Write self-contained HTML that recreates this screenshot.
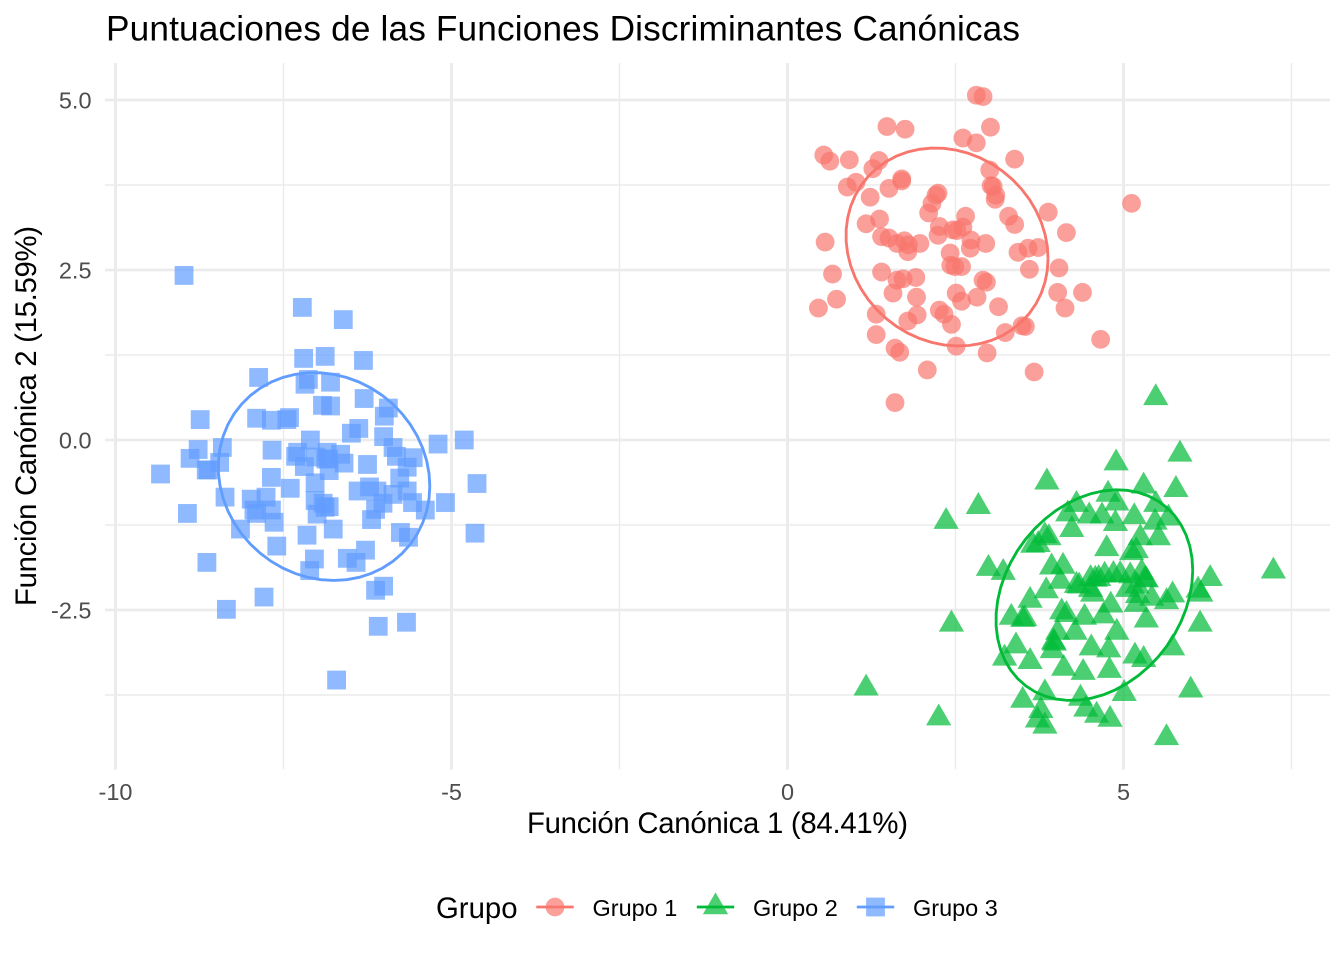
<!DOCTYPE html>
<html lang="es">
<head>
<meta charset="utf-8">
<title>Puntuaciones de las Funciones Discriminantes Canónicas</title>
<style>
html,body{margin:0;padding:0;background:#fff;}
svg{display:block;}
text{font-family:"Liberation Sans",Arial,sans-serif;}
</style>
</head>
<body>
<svg id="chart" xmlns="http://www.w3.org/2000/svg" width="1344" height="960" viewBox="0 0 1344 960">
<rect x="0" y="0" width="1344" height="960" fill="#ffffff"/>
<g id="grid"></g>
<g id="points"></g>
<g id="ellipses"></g>
<g id="ticks"></g>
<text x="106" y="40.5" font-size="35.2" fill="#000000" textLength="914" lengthAdjust="spacing">Puntuaciones de las Funciones Discriminantes Canónicas</text>
<text x="717.5" y="833" font-size="29.33" text-anchor="middle" fill="#000000" textLength="381" lengthAdjust="spacing">Función Canónica 1 (84.41%)</text>
<text transform="translate(36,416) rotate(-90)" font-size="29.33" text-anchor="middle" fill="#000000" textLength="380" lengthAdjust="spacing">Función Canónica 2 (15.59%)</text>
<g id="legend">
<text x="436" y="918" font-size="29.33" fill="#000000">Grupo</text>
</g>
</svg>
<script>
var xMajorTicks = [-10, -5, 0, 5];
var xMajorLabels = ["-10", "-5", "0", "5"];
var xMinorTicks = [-7.5, -2.5, 2.5, 7.5];
var yMajorTicks = [5, 2.5, 0, -2.5];
var yMajorLabels = ["5.0", "2.5", "0.0", "-2.5"];
var yMinorTicks = [3.75, 1.25, -1.25, -3.75];
var groupNames = ["Grupo 1", "Grupo 2", "Grupo 3"];
var groupColors = ["#F8766D", "#00BA38", "#619CFF"];
var ellipseLevel = 0.75;
var ellipseSpreadX = [1.01, 1.09, 1.005];
var ellipseSpreadY = [1.01, 1.04, 1.07];
var ellipseShiftX = [0.03, -0.02, -0.02];
var ellipseShiftY = [0, -0.015, 0];

var group1X = [2.81,2.91,3.02,1.48,1.75,2.61,2.81,0.54,0.63,0.92,1.36,1.27,3.38,3.01,1.70,1.70,1.02,0.89,1.51,1.23,3.03,3.06,3.10,3.09,2.24,2.21,2.15,2.10,3.29,3.38,3.88,5.12,1.37,1.17,2.65,2.26,2.61,2.46,4.15,0.56,1.40,1.51,1.63,1.74,1.80,1.79,1.97,2.24,2.52,2.73,2.72,2.95,3.43,3.58,3.73,2.42,2.43,2.49,2.59,3.60,4.04,0.67,1.40,1.63,1.72,1.91,2.91,2.96,1.57,1.92,2.51,2.59,2.82,4.02,4.39,4.13,0.73,0.46,1.32,2.26,2.33,3.14,1.93,1.79,2.44,3.24,3.49,3.54,1.32,1.60,1.67,2.51,2.97,4.66,2.08,3.67,1.60];
var group1Y = [5.07,5.05,4.60,4.61,4.57,4.44,4.37,4.19,4.10,4.12,4.11,3.99,4.13,3.97,3.84,3.81,3.79,3.72,3.70,3.57,3.74,3.73,3.60,3.54,3.63,3.60,3.48,3.34,3.29,3.17,3.35,3.48,3.25,3.18,3.29,3.14,3.13,3.09,3.05,2.91,2.99,2.97,2.89,2.93,2.87,2.77,2.89,3.01,3.08,2.94,2.82,2.89,2.76,2.82,2.83,2.75,2.57,2.55,2.55,2.51,2.53,2.44,2.47,2.35,2.37,2.39,2.35,2.32,2.16,2.10,2.16,2.04,2.10,2.17,2.17,1.94,2.07,1.94,1.85,1.91,1.85,1.96,1.84,1.75,1.70,1.58,1.68,1.67,1.55,1.35,1.29,1.38,1.28,1.48,1.03,1.00,0.55];

var group2X = [5.48,5.84,4.89,5.30,5.78,3.86,2.84,2.36,4.77,4.30,4.90,5.48,4.17,4.49,4.68,5.16,4.88,5.47,5.67,4.23,5.25,5.52,3.89,3.83,3.73,3.65,4.75,5.12,5.19,2.99,3.21,3.93,4.10,4.06,4.30,3.85,3.61,4.51,4.63,4.72,4.85,4.58,5.10,5.27,5.34,5.32,5.06,4.54,4.51,3.33,3.50,3.53,4.08,4.15,4.42,4.70,4.81,5.19,5.21,5.42,5.64,5.73,5.34,6.15,6.11,6.29,7.23,2.44,6.14,4.90,4.02,3.97,3.94,3.96,4.28,3.40,4.52,4.78,5.73,3.23,3.61,5.17,5.30,4.11,4.40,4.79,1.17,3.83,5.01,6.00,4.36,3.50,2.25,4.44,3.77,4.60,3.72,4.80,3.83,5.64,4.95,5.20,4.34];
var group2Y = [0.62,-0.21,-0.34,-0.68,-0.73,-0.62,-0.98,-1.20,-0.80,-0.95,-0.93,-0.95,-1.09,-1.12,-1.12,-1.13,-1.23,-1.21,-1.15,-1.32,-1.44,-1.44,-1.44,-1.41,-1.54,-1.55,-1.60,-1.66,-1.63,-1.89,-1.95,-1.87,-1.86,-2.08,-2.14,-2.22,-2.36,-2.04,-2.04,-1.99,-1.98,-2.05,-2.00,-1.95,-2.06,-2.05,-2.20,-2.27,-2.20,-2.61,-2.64,-2.63,-2.53,-2.57,-2.61,-2.59,-2.43,-2.42,-2.29,-2.33,-2.38,-2.28,-2.65,-2.27,-2.21,-2.04,-1.93,-2.71,-2.71,-2.83,-2.83,-2.99,-3.10,-2.97,-2.83,-3.03,-3.06,-3.09,-3.06,-3.21,-3.26,-3.18,-3.23,-3.36,-3.42,-3.39,-3.65,-3.72,-3.73,-3.68,-3.80,-3.83,-4.09,-3.96,-3.98,-4.05,-4.12,-4.11,-4.21,-4.38,-1.98,-2.15,-2.15];

var group3X = [-8.98,-7.22,-6.61,-7.20,-6.88,-6.31,-7.87,-7.13,-7.18,-6.80,-6.30,-6.92,-6.80,-5.94,-6.00,-8.74,-7.90,-7.68,-7.45,-7.41,-6.38,-6.49,-6.01,-5.20,-4.81,-7.10,-8.77,-8.41,-7.67,-5.87,-8.89,-8.45,-7.29,-7.32,-7.02,-7.19,-6.85,-6.65,-6.87,-6.83,-6.60,-6.82,-5.82,-5.57,-5.66,-6.25,-9.33,-8.65,-8.62,-5.77,-7.68,-7.40,-7.03,-6.22,-6.39,-6.11,-5.66,-4.62,-8.37,-7.98,-7.76,-7.03,-6.91,-6.02,-5.87,-5.58,-5.09,-7.94,-7.90,-7.68,-6.82,-6.88,-7.00,-6.13,-5.39,-8.93,-6.19,-7.64,-8.14,-6.76,-7.15,-5.76,-5.64,-4.65,-7.60,-8.64,-6.28,-6.55,-6.42,-7.04,-7.11,-6.01,-6.13,-7.79,-8.35,-5.67,-6.09,-6.71];
var group3Y = [2.42,1.95,1.77,1.20,1.23,1.17,0.92,0.89,0.82,0.85,0.61,0.51,0.50,0.47,0.35,0.30,0.32,0.29,0.30,0.33,0.17,0.10,0.05,-0.06,0.00,0.00,-0.14,-0.11,-0.15,-0.11,-0.27,-0.33,-0.18,-0.24,-0.25,-0.39,-0.18,-0.21,-0.28,-0.28,-0.34,-0.45,-0.24,-0.26,-0.40,-0.36,-0.50,-0.44,-0.44,-0.56,-0.55,-0.71,-0.63,-0.69,-0.75,-0.75,-0.75,-0.64,-0.84,-0.87,-0.84,-0.89,-0.93,-0.93,-0.80,-0.92,-0.92,-1.03,-1.08,-1.03,-0.98,-0.99,-1.09,-1.02,-1.03,-1.08,-1.17,-1.21,-1.31,-1.31,-1.40,-1.36,-1.43,-1.37,-1.56,-1.80,-1.62,-1.74,-1.80,-1.75,-1.92,-2.15,-2.21,-2.31,-2.49,-2.68,-2.74,-3.53];

var SVG_NS = "http://www.w3.org/2000/svg";
var panelLeft = 105, panelRight = 1330, panelTop = 63, panelBottom = 769.5;
function xScale(v) { return 787.5 + 67.2 * v; }
function yScale(v) { return 440 - 68 * v; }
function make(tag, attrs, parent) {
  var el = document.createElementNS(SVG_NS, tag);
  for (var k in attrs) { el.setAttribute(k, attrs[k]); }
  parent.appendChild(el);
  return el;
}
function seriesStats(xs, ys) {
  var n = xs.length, nu = 5, w = [], i;
  for (i = 0; i < n; i++) { w.push(1); }
  var cx = 0, cy = 0, a = 0, b = 0, d = 0;
  for (var iter = 0; iter < 200; iter++) {
    var sw = 0; cx = 0; cy = 0;
    for (i = 0; i < n; i++) { sw += w[i]; cx += w[i] * xs[i]; cy += w[i] * ys[i]; }
    cx /= sw; cy /= sw;
    a = 0; b = 0; d = 0;
    for (i = 0; i < n; i++) {
      var dx = xs[i] - cx, dy = ys[i] - cy;
      a += w[i] * dx * dx; b += w[i] * dx * dy; d += w[i] * dy * dy;
    }
    var sa = a / sw, sb = b / sw, sd = d / sw, det = sa * sd - sb * sb, change = 0;
    for (i = 0; i < n; i++) {
      var ex = xs[i] - cx, ey = ys[i] - cy;
      var q = (sd * ex * ex - 2 * sb * ex * ey + sa * ey * ey) / det;
      var nw = (nu + 2) / (nu + q);
      change = Math.max(change, Math.abs(nw - w[i]));
      w[i] = nw;
    }
    if (change < 0.0001) { break; }
  }
  return { cx: cx, cy: cy, a: a / n, b: b / n, d: d / n, n: n };
}
function ellipsePath(xs, ys, g) {
  var s = seriesStats(xs, ys);
  var dfd = s.n - 1;
  var fq = (dfd / 2) * (Math.pow(1 - ellipseLevel, -2 / dfd) - 1);
  var radius = Math.sqrt(2 * fq);
  var r11 = Math.sqrt(s.a), r12 = s.b / r11, r22 = Math.sqrt(s.d - r12 * r12);
  var segments = 51, parts = [];
  for (var i = 0; i <= segments; i++) {
    var t = i * 2 * Math.PI / segments;
    var vx = s.cx + ellipseShiftX[g] + ellipseSpreadX[g] * radius * Math.cos(t) * r11;
    var vy = s.cy + ellipseShiftY[g] + ellipseSpreadY[g] * radius * (Math.cos(t) * r12 + Math.sin(t) * r22);
    parts.push((i ? "L" : "M") + xScale(vx).toFixed(2) + " " + yScale(vy).toFixed(2));
  }
  return parts.join(" ");
}
function circleMark(cx, cy, color, parent) {
  return make("circle", { cx: cx, cy: cy, r: 9.4, fill: color, "fill-opacity": 0.7 }, parent);
}
function triangleMark(cx, cy, color, parent) {
  var r = 14.6, hw = 0.866 * r;
  var pts = cx + "," + (cy - r) + " " + (cx - hw) + "," + (cy + r / 2) + " " + (cx + hw) + "," + (cy + r / 2);
  return make("polygon", { points: pts, fill: color, "fill-opacity": 0.7 }, parent);
}
function squareMark(cx, cy, color, parent) {
  return make("rect", { x: cx - 9.4, y: cy - 9.4, width: 18.8, height: 18.8, fill: color, "fill-opacity": 0.7 }, parent);
}

var grid = document.getElementById("grid");
xMinorTicks.forEach(function (v) {
  var l = make("line", { x1: xScale(v), x2: xScale(v), y1: panelTop, y2: panelBottom, stroke: "#EBEBEB", "stroke-width": 1.42 }, grid);
  
  
});
yMinorTicks.forEach(function (v) {
  var l = make("line", { x1: panelLeft, x2: panelRight, y1: yScale(v), y2: yScale(v), stroke: "#EBEBEB", "stroke-width": 1.42 }, grid);
  
  
});
xMajorTicks.forEach(function (v) {
  var l = make("line", { x1: xScale(v), x2: xScale(v), y1: panelTop, y2: panelBottom, stroke: "#EBEBEB", "stroke-width": 2.85 }, grid);
  
  
});
yMajorTicks.forEach(function (v) {
  var l = make("line", { x1: panelLeft, x2: panelRight, y1: yScale(v), y2: yScale(v), stroke: "#EBEBEB", "stroke-width": 2.85 }, grid);
  
  
});

var ticks = document.getElementById("ticks");
xMajorTicks.forEach(function (v, i) {
  var t = make("text", { x: xScale(v), y: 800, "font-size": 23.47, "text-anchor": "middle", fill: "#4D4D4D" }, ticks);
  t.textContent = xMajorLabels[i];
  
  
});
yMajorTicks.forEach(function (v, i) {
  var t = make("text", { x: 91.5, y: yScale(v) + 8.3, "font-size": 23.47, "text-anchor": "end", fill: "#4D4D4D" }, ticks);
  t.textContent = yMajorLabels[i];
  
  
});

var pointLayer = document.getElementById("points");
group1X.forEach(function (v, i) {
  var m = circleMark(xScale(v), yScale(group1Y[i]), groupColors[0], pointLayer);
  
  
});
group2X.forEach(function (v, i) {
  var m = triangleMark(xScale(v), yScale(group2Y[i]), groupColors[1], pointLayer);
  
  
});
group3X.forEach(function (v, i) {
  var m = squareMark(xScale(v), yScale(group3Y[i]), groupColors[2], pointLayer);
  
  
});

var ellipseLayer = document.getElementById("ellipses");
var ellipse1 = make("path", { d: ellipsePath(group1X, group1Y, 0), fill: "none", stroke: groupColors[0], "stroke-width": 2.85 }, ellipseLayer);


var ellipse2 = make("path", { d: ellipsePath(group2X, group2Y, 1), fill: "none", stroke: groupColors[1], "stroke-width": 2.85 }, ellipseLayer);


var ellipse3 = make("path", { d: ellipsePath(group3X, group3Y, 2), fill: "none", stroke: groupColors[2], "stroke-width": 2.85 }, ellipseLayer);



var legend = document.getElementById("legend");
var legendKeyX = [555, 715.5, 875.5];
var legendMarks = [circleMark, triangleMark, squareMark];
groupNames.forEach(function (name, i) {
  var entry = make("g", {}, legend);
  
  
  var kx = legendKeyX[i];
  var km = legendMarks[i](kx, 907, groupColors[i], entry);
  
  
  var kl = make("line", { x1: kx - 18.7, x2: kx + 18.7, y1: 907, y2: 907, stroke: groupColors[i], "stroke-width": 2.85 }, entry);
  
  
  var t = make("text", { x: kx + 37.5, y: 916, "font-size": 23.47, fill: "#000000" }, entry);
  t.textContent = name;
  
  
});
</script>
</body>
</html>
